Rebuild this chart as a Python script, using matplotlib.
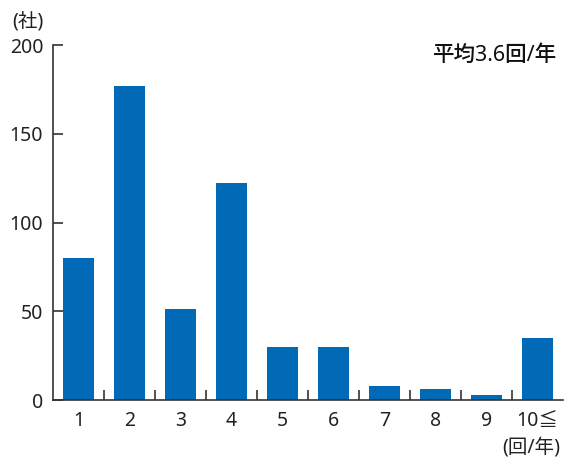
import numpy as np
import matplotlib.pyplot as plt

plt.rcParams['font.family'] = ['Noto Sans', 'Noto Sans CJK JP', 'DejaVu Sans']

# 年間回数別の社数
categories = ['1', '2', '3', '4', '5', '6', '7', '8', '9', '10≦']
companies = [80, 177, 51, 122, 30, 30, 8, 6, 3, 35]

bar_color = '#006AB6'
axis_color = '#333333'

fig = plt.figure(figsize=(5.64, 4.59), dpi=100)
ax = fig.add_axes([53 / 564, 59 / 459, 510 / 564, 355 / 459])

x = np.arange(1, len(categories) + 1)
ax.bar(x, companies, width=0.6, color=bar_color)

ax.set_xlim(0.5, 10.5)
ax.set_ylim(0, 200)

# y axis
ax.set_yticks([0, 50, 100, 150, 200])
ax.tick_params(axis='y', direction='in', length=7, width=1.2, color=axis_color,
               labelsize=14, pad=7, labelcolor='#222222')

# x axis: tick marks between bars, labels at bar centres
ax.set_xticks(x[:-1] + 0.5)
ax.set_xticklabels([])
ax.tick_params(axis='x', direction='in', length=7, width=1.2, color=axis_color)
ax.set_xticks(x, minor=True)
ax.set_xticklabels(categories, minor=True)
ax.tick_params(axis='x', which='minor', length=0, labelsize=14, pad=8,
               labelcolor='#222222')

for side in ['top', 'right']:
    ax.spines[side].set_visible(False)
for side in ['left', 'bottom']:
    ax.spines[side].set_color(axis_color)
    ax.spines[side].set_linewidth(1.2)

fig.text(12 / 564, 1 - 22 / 459, '(社)', fontsize=14, ha='left', va='center',
         color='#222222')
fig.text(560 / 564, 1 - 448 / 459, '(回/年)', fontsize=14, ha='right', va='center',
         color='#222222')
fig.text(557 / 564, 1 - 55 / 459, '平均3.6回/年', fontsize=15.5, ha='right',
         va='center', color='#111111', fontweight='medium')

fig.savefig('out.png', dpi=100)
